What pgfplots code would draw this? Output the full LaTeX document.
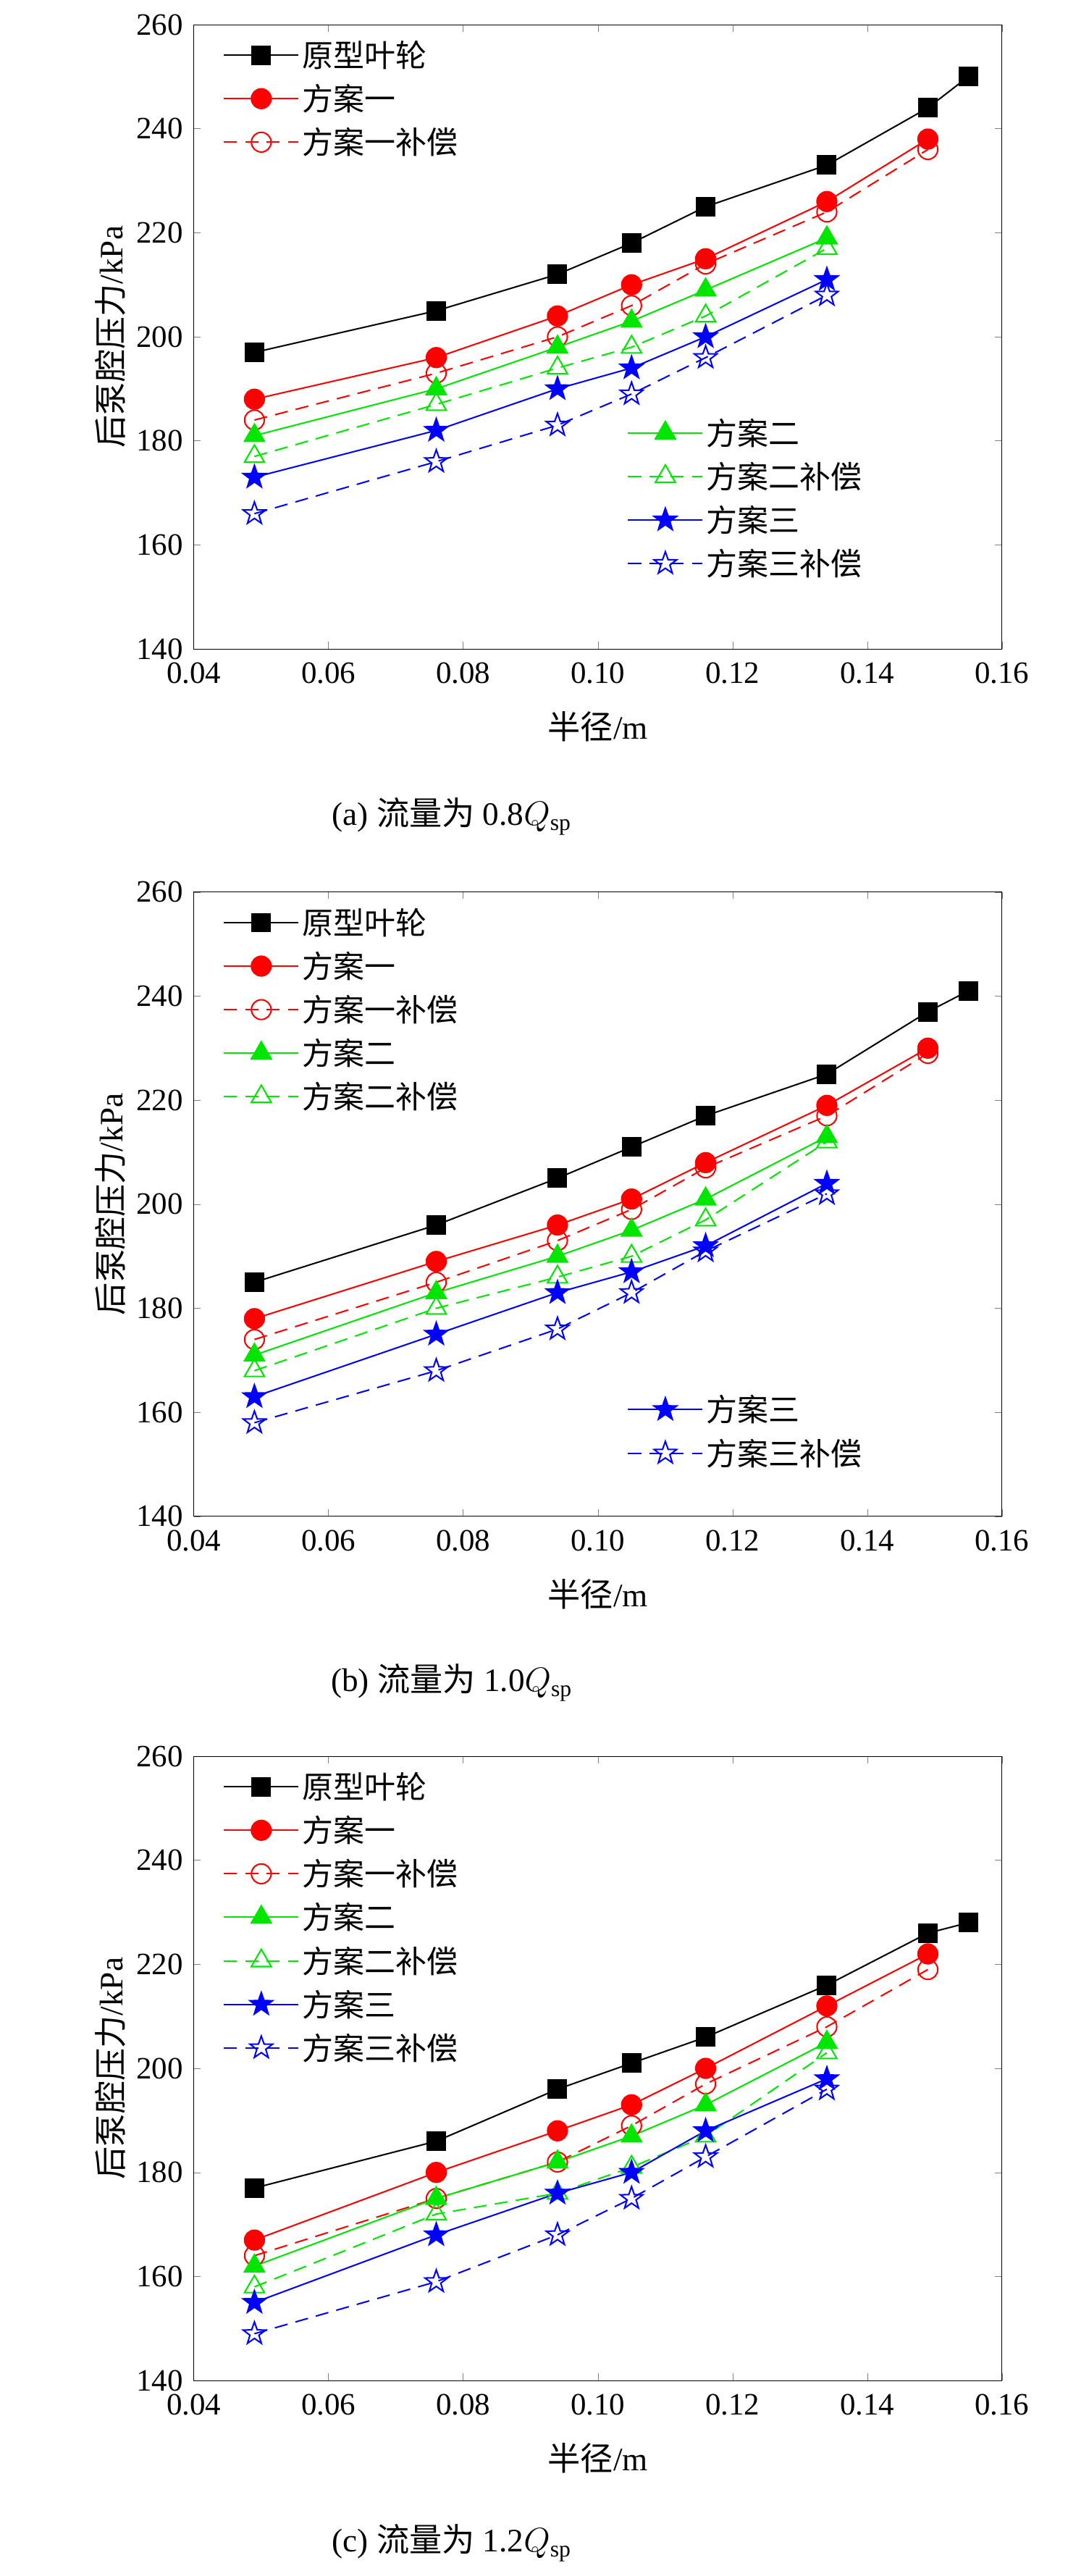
\documentclass[border=0pt]{standalone}
\usepackage{pgfplots}
\pgfplotsset{compat=1.18}
\usepackage{fontspec}
\setmainfont{Liberation Serif}
\newfontfamily\cjk{Noto Sans CJK SC}
\makeatletter
\pgfdeclareplotmark{fstar}{%
 \pgfpathmoveto{\pgfpointpolar{90}{1.2\pgfplotmarksize}}%
 \foreach \a/\r in {126/0.48,162/1.2,198/0.48,234/1.2,270/0.48,306/1.2,342/0.48,18/1.2,54/0.48}{\pgfpathlineto{\pgfpointpolar{\a}{\r\pgfplotmarksize}}}%
 \pgfpathclose\pgfusepathqfillstroke}
\pgfdeclareplotmark{ostar}{%
 \pgfpathmoveto{\pgfpointpolar{90}{1.2\pgfplotmarksize}}%
 \foreach \a/\r in {126/0.48,162/1.2,198/0.48,234/1.2,270/0.48,306/1.2,342/0.48,18/1.2,54/0.48}{\pgfpathlineto{\pgfpointpolar{\a}{\r\pgfplotmarksize}}}%
 \pgfpathclose\pgfusepathqstroke}
\makeatother
\definecolor{gr}{RGB}{0,230,0}
\pgfplotsset{
 base/.style={scale only axis,width=492bp,height=380bp,xmin=0.04,xmax=0.16,ymin=140,ymax=260,
  xtick={0.04,0.06,...,0.16},ytick={140,160,...,260},tick align=inside,
  xticklabel style={yshift=-5bp,/pgf/number format/.cd,fixed,fixed zerofill,precision=2},
  yticklabel style={xshift=-3bp},
  /pgf/number format/assume math mode=true,
  tick label style={font=\fontsize{19}{22}\selectfont},
  label style={font=\fontsize{20}{24}\selectfont},
  xlabel style={yshift=-10bp},
  xlabel={{\cjk 半径}/m},ylabel={{\cjk 后泵腔压力}/kPa},
  legend style={draw=none,fill=none,font=\fontsize{19}{22}\selectfont\cjk,row sep=5bp,anchor=north west,cells={anchor=west}},
  legend image code/.code={\draw[mark repeat=2,mark phase=2] plot coordinates {(0cm,0cm)(0.8cm,0cm)(1.6cm,0cm)};},
  every axis plot/.append style={line width=0.9pt,mark size=6bp}},
 hid/.style={base,axis lines=none,xlabel={},ylabel={}},
 dsh/.style={dash pattern=on 8pt off 5pt},
 s0/.style={black,mark=square*,mark size=5.5bp},
 s1/.style={red,mark=*},
 s1c/.style={red,dsh,mark=o,mark options={solid,fill=white}},
 s2/.style={gr,mark=triangle*,mark size=7bp},
 s2c/.style={gr,dsh,mark=triangle,mark size=7bp,mark options={solid,fill=white}},
 s3/.style={blue,mark=fstar},
 s3c/.style={blue,dsh,mark=ostar,mark options={solid,fill=white}},
}
\begin{document}
\begin{tikzpicture}
\path[use as bounding box] (-118bp,-1173bp) rectangle (532bp,395bp);
% (a)
\begin{axis}[base,legend style={at={(0.03,0.985)}}]
\addplot[s0] coordinates {(0.049,197)(0.076,205)(0.094,212)(0.105,218)(0.116,225)(0.134,233)(0.149,244)(0.155,250)};
\addplot[s1] coordinates {(0.049,188)(0.076,196)(0.094,204)(0.105,210)(0.116,215)(0.134,226)(0.149,238)};
\addplot[s1c] coordinates {(0.049,184)(0.076,193)(0.094,200)(0.105,206)(0.116,214)(0.134,224)(0.149,236)};
\legend{原型叶轮,方案一,方案一补偿}
\end{axis}
\begin{axis}[hid,legend style={at={(0.53,0.38)}}]
\addplot[s2] coordinates {(0.049,181)(0.076,190)(0.094,198)(0.105,203)(0.116,209)(0.134,219)};
\addplot[s2c] coordinates {(0.049,177)(0.076,187)(0.094,194)(0.105,198)(0.116,204)(0.134,217)};
\addplot[s3] coordinates {(0.049,173)(0.076,182)(0.094,190)(0.105,194)(0.116,200)(0.134,211)};
\addplot[s3c] coordinates {(0.049,166)(0.076,176)(0.094,183)(0.105,189)(0.116,196)(0.134,208)};
\legend{方案二,方案二补偿,方案三,方案三补偿}
\end{axis}
\node[font=\fontsize{20}{24}\selectfont] at (157bp,-102bp) {(a) {\cjk 流量为} 0.8$Q_{\mathrm{sp}}$};
% (b)
\begin{axis}[base,at={(0,-528bp)},legend style={at={(0.03,0.985)}}]
\addplot[s0] coordinates {(0.049,185)(0.076,196)(0.094,205)(0.105,211)(0.116,217)(0.134,225)(0.149,237)(0.155,241)};
\addplot[s1] coordinates {(0.049,178)(0.076,189)(0.094,196)(0.105,201)(0.116,208)(0.134,219)(0.149,230)};
\addplot[s1c] coordinates {(0.049,174)(0.076,185)(0.094,193)(0.105,199)(0.116,207)(0.134,217)(0.149,229)};
\addplot[s2] coordinates {(0.049,171)(0.076,183)(0.094,190)(0.105,195)(0.116,201)(0.134,213)};
\addplot[s2c] coordinates {(0.049,168)(0.076,180)(0.094,186)(0.105,190)(0.116,197)(0.134,212)};
\legend{原型叶轮,方案一,方案一补偿,方案二,方案二补偿}
\end{axis}
\begin{axis}[hid,at={(0,-528bp)},legend style={at={(0.53,0.205)}}]
\addplot[s3] coordinates {(0.049,163)(0.076,175)(0.094,183)(0.105,187)(0.116,192)(0.134,204)};
\addplot[s3c] coordinates {(0.049,158)(0.076,168)(0.094,176)(0.105,183)(0.116,191)(0.134,202)};
\legend{方案三,方案三补偿}
\end{axis}
\node[font=\fontsize{20}{24}\selectfont] at (157bp,-629bp) {(b) {\cjk 流量为} 1.0$Q_{\mathrm{sp}}$};
% (c)
\begin{axis}[base,at={(0,-1054bp)},legend style={at={(0.03,0.985)}}]
\addplot[s0] coordinates {(0.049,177)(0.076,186)(0.094,196)(0.105,201)(0.116,206)(0.134,216)(0.149,226)(0.155,228)};
\addplot[s1] coordinates {(0.049,167)(0.076,180)(0.094,188)(0.105,193)(0.116,200)(0.134,212)(0.149,222)};
\addplot[s1c] coordinates {(0.049,164)(0.076,175)(0.094,182)(0.105,189)(0.116,197)(0.134,208)(0.149,219)};
\addplot[s2] coordinates {(0.049,162)(0.076,175)(0.094,182)(0.105,187)(0.116,193)(0.134,205)};
\addplot[s2c] coordinates {(0.049,158)(0.076,172)(0.094,176)(0.105,181)(0.116,187)(0.134,203)};
\addplot[s3] coordinates {(0.049,155)(0.076,168)(0.094,176)(0.105,180)(0.116,188)(0.134,198)};
\addplot[s3c] coordinates {(0.049,149)(0.076,159)(0.094,168)(0.105,175)(0.116,183)(0.134,196)};
\legend{原型叶轮,方案一,方案一补偿,方案二,方案二补偿,方案三,方案三补偿}
\end{axis}
\node[font=\fontsize{20}{24}\selectfont] at (157bp,-1153bp) {(c) {\cjk 流量为} 1.2$Q_{\mathrm{sp}}$};
\end{tikzpicture}
\end{document}
